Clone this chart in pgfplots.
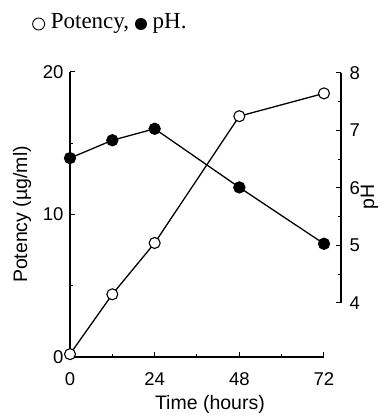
\documentclass[border=0pt]{standalone}
\usepackage{fontspec}
\setmainfont{Liberation Sans}
\newfontfamily\seriffont{Liberation Serif}
\usepackage{pgfplots}
\pgfplotsset{compat=1.18}
\begin{document}
\begin{tikzpicture}
\useasboundingbox (0pt,0pt) rectangle (391pt,417pt);
\node[anchor=base west, font=\seriffont\fontsize{23}{23}\selectfont, inner sep=0pt] at (32pt,388pt)
  {\tikz[baseline=-5pt]\draw[line width=0.9pt] (0,0) circle (6pt);\ Potency,\ \tikz[baseline=-5pt]\fill (0,0) circle (6pt);\ pH.};
\begin{axis}[
  at={(70pt,60pt)}, anchor=south west,
  scale only axis, width=254pt, height=285pt,
  xmin=0, xmax=72, ymin=0, ymax=20,
  axis x line=bottom, axis y line=left,
  axis line style={-, line width=1.2pt},
  xtick={0,24,48,72}, minor xtick={12,36,60},
  ytick={0,10,20}, minor ytick={5,15},
  major tick length=5pt, minor tick length=3pt,
  tick style={line width=1pt, black},
  tick align=inside,
  ticklabel style={font=\fontsize{18.5}{18.5}\selectfont},
  xticklabel style={yshift=-12pt},
  yticklabel style={xshift=-3pt},
  label style={font=\fontsize{19.5}{19.5}\selectfont},
  xlabel={Time (hours)}, ylabel={Potency (µg/ml)},
  xlabel style={at={(axis description cs:0.551,-0.168)}, anchor=center},
  ylabel style={at={(axis description cs:-0.189,0.5)}, anchor=center},
  clip=false,
  /pgf/number format/assume math mode=true,
]
\addplot[black, line width=1.3pt, mark=*, mark options={fill=white, line width=1.1pt}, mark size=5.5pt]
  coordinates {(0,0.2)(12,4.4)(24,8.0)(48,16.9)(72,18.5)};
\end{axis}
\begin{axis}[
  at={(70pt,114pt)}, anchor=south west,
  scale only axis, width=271pt, height=230pt,
  xmin=0, xmax=76.82, ymin=4, ymax=8,
  hide x axis, axis y line=right,
  axis line style={-, line width=1.2pt},
  ytick={4,5,6,7,8}, minor ytick={4.5,5.5,6.5,7.5},
  major tick length=5pt, minor tick length=3pt,
  tick style={line width=1pt, black},
  tick align=inside,
  ticklabel style={font=\fontsize{18.5}{18.5}\selectfont},
  yticklabel style={xshift=5pt},
  label style={font=\fontsize{19.5}{19.5}\selectfont},
  ylabel={pH},
  ylabel style={at={(axis description cs:1.105,0.461)}, anchor=center},
  clip=false,
  /pgf/number format/assume math mode=true,
]
\addplot[black, line width=1.3pt, mark=*, mark options={fill=black}, mark size=5.5pt]
  coordinates {(0,6.52)(12,6.83)(24,7.03)(48,6.01)(72,5.03)};
\end{axis}
\end{tikzpicture}
\end{document}
